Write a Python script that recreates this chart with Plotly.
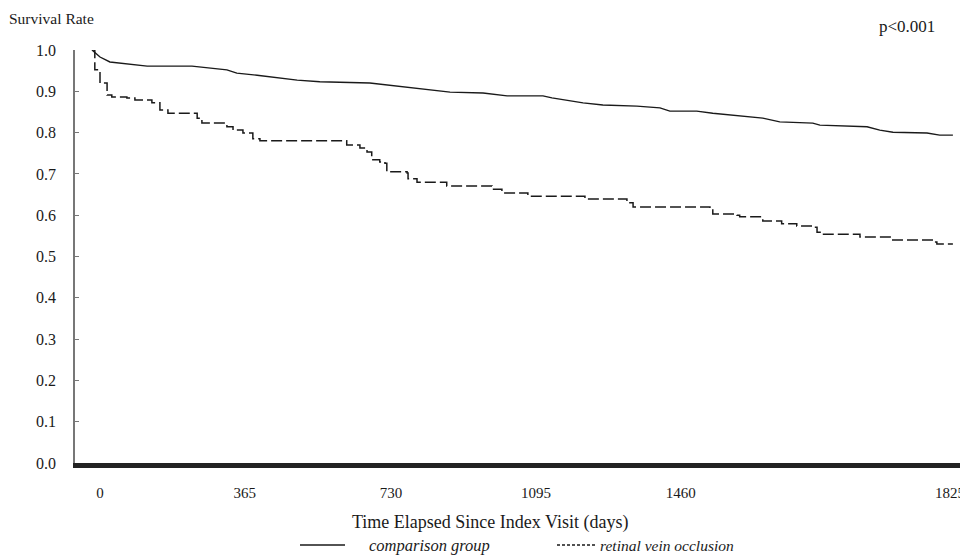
import plotly.graph_objects as go

# ---- data ----
comp_days = [0, 17, 38, 53, 117, 212, 286, 307, 350, 435, 483, 589, 721, 759, 829, 880, 956, 975,
             1041, 1083, 1155, 1204, 1225, 1282, 1316, 1352, 1388, 1422, 1458, 1528, 1543, 1600,
             1643, 1670, 1698, 1770, 1797, 1825]
comp_surv = [1.0, 0.983, 0.971, 0.969, 0.961, 0.961, 0.952, 0.944, 0.939, 0.927, 0.923, 0.920,
             0.903, 0.898, 0.896, 0.889, 0.889, 0.884, 0.872, 0.867, 0.864, 0.860, 0.852, 0.852,
             0.847, 0.843, 0.838, 0.835, 0.826, 0.823, 0.818, 0.816, 0.814, 0.806, 0.801, 0.799,
             0.794, 0.794]

rvo_days = [0, 6, 17, 32, 42, 74, 91, 127, 144, 161, 208, 223, 233, 278, 286, 299, 320, 341, 356,
            526, 540, 568, 583, 593, 610, 621, 625, 668, 670, 689, 744, 752, 829, 848, 869, 907,
            924, 1041, 1045, 1119, 1134, 1147, 1204, 1310, 1316, 1367, 1373, 1409, 1422, 1452,
            1462, 1494, 1528, 1537, 1549, 1621, 1628, 1685, 1692, 1783, 1791, 1825]
rvo_surv = [1.0, 0.952, 0.920, 0.891, 0.886, 0.884, 0.879, 0.872, 0.855, 0.847, 0.847, 0.835,
            0.823, 0.823, 0.814, 0.806, 0.799, 0.785, 0.780, 0.780, 0.770, 0.763, 0.753, 0.734,
            0.729, 0.726, 0.705, 0.702, 0.688, 0.680, 0.680, 0.671, 0.671, 0.663, 0.654, 0.654,
            0.646, 0.646, 0.639, 0.639, 0.630, 0.620, 0.620, 0.615, 0.603, 0.600, 0.596, 0.596,
            0.586, 0.586, 0.579, 0.574, 0.571, 0.559, 0.554, 0.554, 0.547, 0.547, 0.540, 0.535,
            0.530, 0.530]

x_tick_labels = ["0", "365", "730", "1095", "1460", "1825"]
# where the reference prints those labels along the axis (in axis units)
x_tick_pos = [17, 324, 634, 941, 1248, 1819]
y_ticks = [0.0, 0.1, 0.2, 0.3, 0.4, 0.5, 0.6, 0.7, 0.8, 0.9, 1.0]

names = ["comparison group", "retinal vein occlusion"]

FONT = "Liberation Serif, 'Times New Roman', 'DejaVu Serif', serif"
INK = "#1a1a1a"

fig = go.Figure()
fig.add_trace(go.Scatter(x=comp_days, y=comp_surv, mode="lines", name=names[0],
                         line=dict(color=INK, width=1.4, shape="linear"),
                         cliponaxis=False, showlegend=False))
fig.add_trace(go.Scatter(x=rvo_days, y=rvo_surv, mode="lines", name=names[1],
                         line=dict(color=INK, width=1.5, shape="hv", dash="11px,4px"),
                         cliponaxis=False, showlegend=False))

# page has an 8px body margin: work in the reference's window pixels, shifted by it
OFF = 8
W, H = 968 - OFF, 560 - OFF
L = 75 - OFF
T = 50 - OFF
BOT = 463 - OFF
B = H - BOT
PW = W - L
PH = BOT - T


def px(xp):
    return (xp - OFF - L) / PW


def py(yp):
    return (BOT - (yp - OFF)) / PH


annotations = [
    dict(text="Survival Rate", x=px(7), y=py(18), xanchor="left", yanchor="middle",
         font=dict(size=15.5)),
    dict(text="p<0.001", x=px(907), y=py(26), xanchor="center", yanchor="middle",
         font=dict(size=17)),
    dict(text="Time Elapsed Since Index Visit (days)", x=px(490), y=py(522),
         xanchor="center", yanchor="middle", font=dict(size=18)),
    dict(text="<i>" + names[0] + "</i>", x=px(367), y=py(545), xanchor="left",
         yanchor="middle", font=dict(size=16.5)),
    dict(text="<i>" + names[1] + "</i>", x=px(598), y=py(545), xanchor="left",
         yanchor="middle", font=dict(size=15.5)),
]
for a in annotations:
    a.update(xref="paper", yref="paper", showarrow=False)
    a["font"].update(family=FONT, color=INK)

shapes = [
    dict(type="line", xref="paper", yref="paper", x0=px(300), x1=px(345), y0=py(545),
         y1=py(545), line=dict(color=INK, width=1.3)),
    dict(type="line", xref="paper", yref="paper", x0=px(557), x1=px(595), y0=py(545),
         y1=py(545), line=dict(color=INK, width=1.3, dash="3px,2px")),
]

fig.update_layout(
    width=W, height=H,
    margin=dict(l=L, r=0, t=T, b=B),
    paper_bgcolor="white", plot_bgcolor="white",
    font=dict(family=FONT, color=INK, size=15),
    annotations=annotations,
    shapes=shapes,
    showlegend=False,
    xaxis=dict(range=[-36, 1857], showgrid=False, zeroline=False, showline=True,
               linecolor="#222222", linewidth=5, ticks="",
               tickvals=x_tick_pos, ticktext=x_tick_labels,
               tickfont=dict(family=FONT, size=15, color=INK), ticklabelstandoff=12),
    yaxis=dict(range=[0, 1.0], showgrid=False, zeroline=False, showline=True,
               linecolor="#777777", linewidth=1.5, ticks="inside", ticklen=4,
               tickcolor="#777777", tickwidth=1.2, tickvals=y_ticks, tickformat=".1f",
               tickfont=dict(family=FONT, size=16, color=INK), ticklabelstandoff=14),
)

fig.write_html("out.html")
